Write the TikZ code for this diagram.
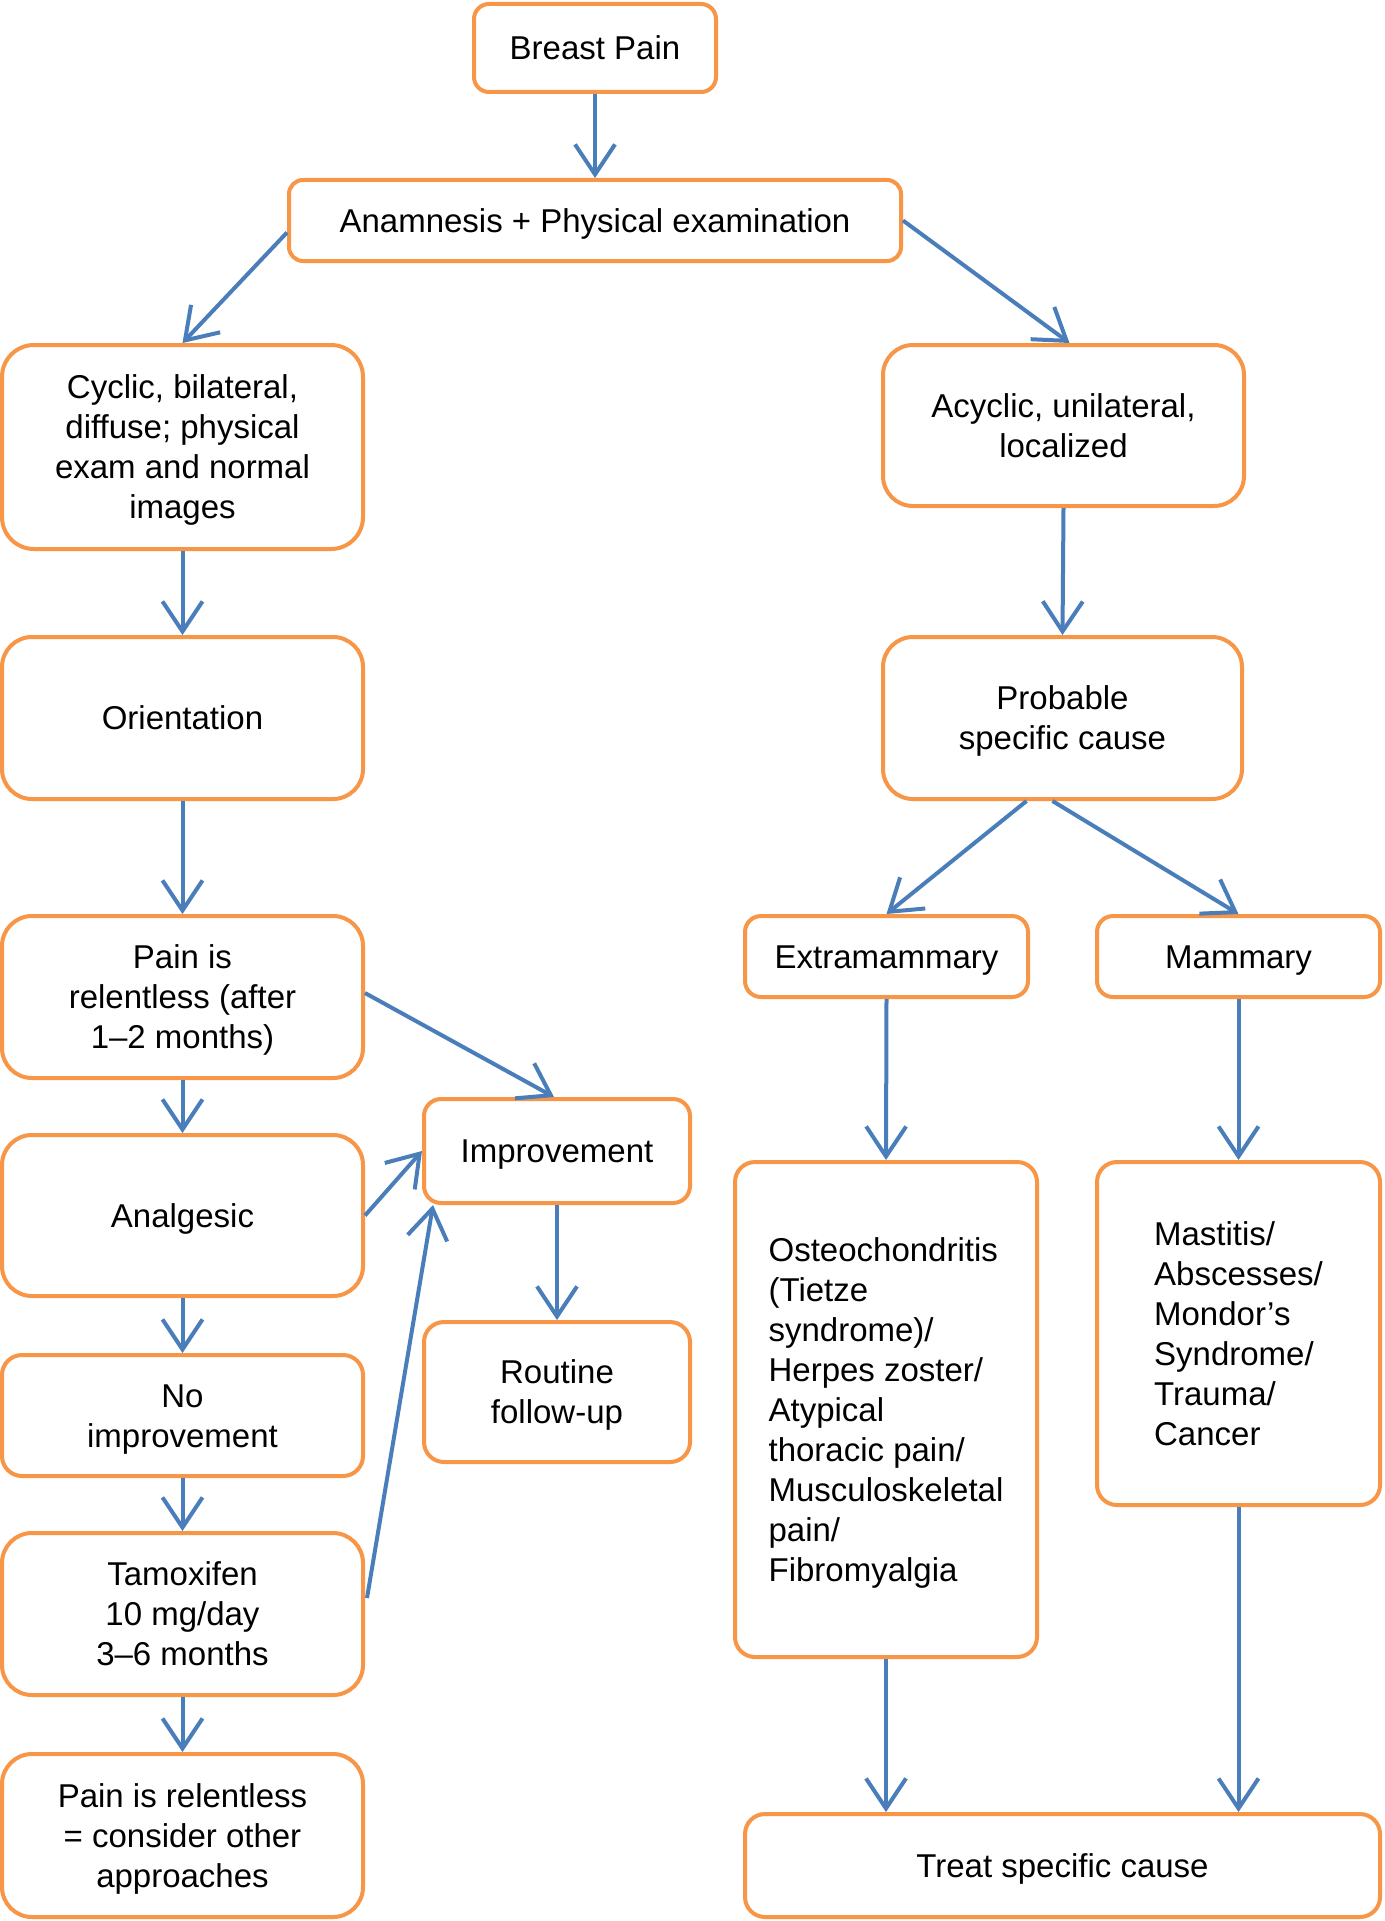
\documentclass[tikz,border=0pt]{standalone}
\usepackage{fontspec}
\setmainfont{Liberation Sans}
\usetikzlibrary{arrows.meta,calc}
\definecolor{boxorange}{HTML}{F79646}
\definecolor{arrowblue}{HTML}{4A7EBB}
\newcommand{\bs}{\rule[-7pt]{0pt}{37.6pt}}
\begin{document}
\begin{tikzpicture}[x=1pt,y=-1pt,
  box/.style={draw=boxorange, line width=4pt, fill=white, rounded corners=#1,
    inner sep=0pt, align=center, font=\fontsize{33}{40}\selectfont},
  box/.default=18pt,
  conn/.style={draw=arrowblue, line width=4pt,
    -{Straight Barb[length=30pt,width=40pt]}}]
\useasboundingbox (0,0) rectangle (1384,1921);
\fill[white] (0,0) rectangle (1384,1921);

% nodes
\node[box=15pt, minimum width=242pt, minimum height=88pt] (bp) at (595,48) {\bs Breast Pain};
\node[box=14pt, minimum width=612pt, minimum height=81pt] (an) at (595,220.5) {\bs Anamnesis + Physical examination};
\node[box=32pt, minimum width=361pt, minimum height=204pt] (cy) at (182.5,447) {\bs Cyclic, bilateral,\\diffuse; physical\\exam and normal\\images\bs};
\node[box=30pt, minimum width=361pt, minimum height=161pt] (ac) at (1063.5,425.5) {\bs Acyclic, unilateral,\\localized\bs};
\node[box=30pt, minimum width=361pt, minimum height=162pt] (or) at (182.5,718) {\bs Orientation};
\node[box=30pt, minimum width=359pt, minimum height=162pt] (pr) at (1062.5,718) {\bs Probable\\specific cause\bs};
\node[box=30pt, minimum width=361pt, minimum height=162pt] (pl) at (182.5,997) {\bs Pain is\\relentless (after\\1–2 months)\bs};
\node[box=16pt, minimum width=283pt, minimum height=81pt] (ex) at (886.5,956.5) {\bs Extramammary};
\node[box=16pt, minimum width=283pt, minimum height=81pt] (ma) at (1238.5,956.5) {\bs Mammary};
\node[box=17pt, minimum width=266pt, minimum height=104pt] (im) at (557,1151) {\bs Improvement};
\node[box=30pt, minimum width=361pt, minimum height=161pt] (ag) at (182.5,1215.5) {\bs Analgesic};
\node[box=20pt, minimum width=361pt, minimum height=121pt] (no) at (182.5,1415.5) {\bs No\\improvement\bs};
\node[box=20pt, minimum width=266pt, minimum height=140pt] (ro) at (557,1392) {\bs Routine\\follow-up\bs};
\node[box=30pt, minimum width=361pt, minimum height=162pt] (ta) at (182.5,1614) {\bs Tamoxifen\\10 mg/day\\3–6 months\bs};
\node[box=30pt, minimum width=361pt, minimum height=163pt] (pc) at (182.5,1835.5) {\bs Pain is relentless\\= consider other\\approaches\bs};
\node[box=20pt, minimum width=302pt, minimum height=495pt, align=left] (os) at (886,1409.5) {\bs Osteochondritis\\(Tietze\\syndrome)/\\Herpes zoster/\\Atypical\\thoracic pain/\\Musculoskeletal\\pain/\\Fibromyalgia\bs};
\node[box=20pt, minimum width=283pt, minimum height=343pt, align=left] (ms) at (1238.5,1333.5) {\bs Mastitis/\\Abscesses/\\Mondor’s\\Syndrome/\\Trauma/\\Cancer\bs};
\node[box=20pt, minimum width=635pt, minimum height=103pt] (tr) at (1062.5,1865.5) {\bs Treat specific cause};

% connectors
\draw[conn] (bp.south) -- (an.north);
\draw[conn] ($(an.west)+(0,12)$) -- (cy.north);
\draw[conn] (an.east) -- ($(ac.north)+(6,0)$);
\draw[conn] (cy.south) -- (or.north);
\draw[conn] (ac.south) -- (pr.north);
\draw[conn] (or.south) -- (pl.north);
\draw[conn] ($(pr.south)+(-36,0)$) -- (ex.north);
\draw[conn] ($(pr.south)+(-10,0)$) -- (ma.north);
\draw[conn] ($(pl.east)+(0,-4)$) -- ($(im.north)+(-3,0)$);
\draw[conn] (pl.south) -- (ag.north);
\draw[conn] (ag.east) -- (im.west);
\draw[conn] ($(ta.east)+(2,-16)$) -- ($(im.south west)+(11,0)$);
\draw[conn] (im.south) -- (ro.north);
\draw[conn] (ag.south) -- (no.north);
\draw[conn] (no.south) -- (ta.north);
\draw[conn] (ta.south) -- (pc.north);
\draw[conn] (ex.south) -- (os.north);
\draw[conn] (ma.south) -- (ms.north);
\draw[conn] (os.south) -- (os.south |- tr.north);
\draw[conn] (ms.south) -- (ms.south |- tr.north);
\end{tikzpicture}
\end{document}
